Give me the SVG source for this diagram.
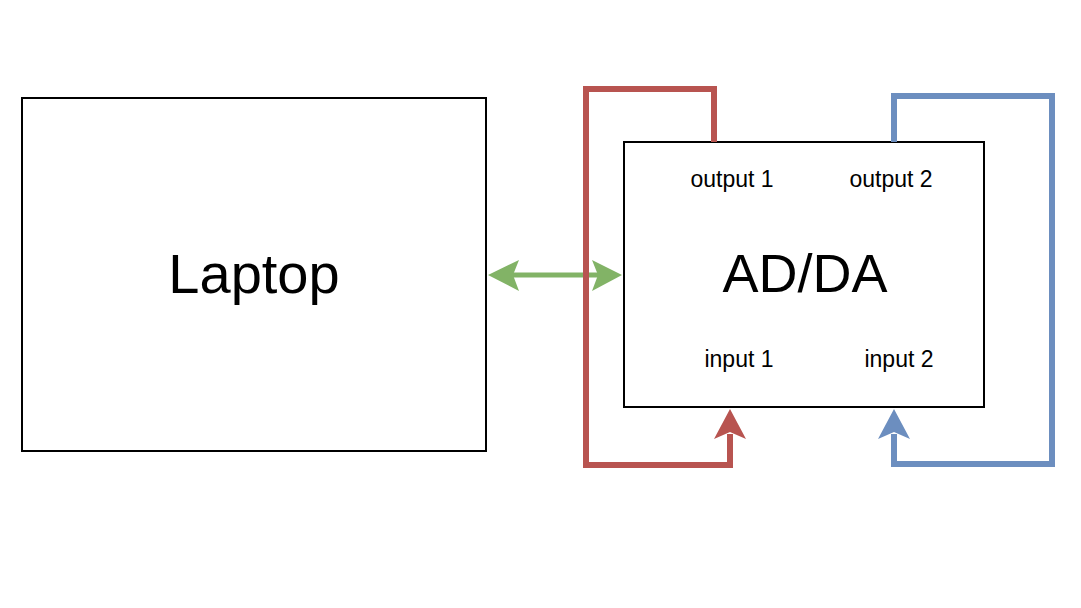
<svg xmlns="http://www.w3.org/2000/svg" width="1081" height="608" viewBox="0 0 1081 608">
  <style>
    .box { fill: #ffffff; stroke: #000000; stroke-width: 2; }
    .big { font-family: "Liberation Sans", Arial, sans-serif; font-size: 54px; fill: #000000; text-anchor: middle; }
    .small { font-family: "Liberation Sans", Arial, sans-serif; font-size: 23px; fill: #000000; text-anchor: middle; }
    .wire { fill: none; stroke-width: 6; stroke-linejoin: miter; }
    .red { stroke: #b85450; }
    .blue { stroke: #6c8ebf; }
    .green { stroke: #82b366; stroke-width: 5; fill: none; }
  </style>
  <rect x="0" y="0" width="1081" height="608" fill="#ffffff"/>
  <g id="laptop">
    <rect class="box" x="22" y="98" width="464" height="353"/>
    <text class="big" x="254" y="293" style="font-size:56px">Laptop</text>
  </g>
  <g id="adda">
    <rect class="box" x="624" y="142" width="360" height="265"/>
    <text class="big" x="805" y="292">AD/DA</text>
    <text class="small" x="732" y="187">output 1</text>
    <text class="small" x="891" y="187">output 2</text>
    <text class="small" x="739" y="367">input 1</text>
    <text class="small" x="899" y="367">input 2</text>
  </g>
  <g id="connectors">
    <g id="link-laptop-adda">
      <line class="green" x1="510" y1="275" x2="600" y2="275"/>
      <polygon fill="#82b366" points="488,275 519,260 513,275 519,291"/>
      <polygon fill="#82b366" points="622,275 592,260 598,275 592,291"/>
    </g>
    <g id="loop-1">
      <path class="wire red" d="M714,142 V89 H586 V465 H730 V434"/>
      <polygon fill="#b85450" points="730,409 746,439 730,432 714,439"/>
    </g>
    <g id="loop-2">
      <path class="wire blue" d="M894,142 V96 H1052 V464 H894 V434"/>
      <polygon fill="#6c8ebf" points="894,409 910,439 894,432 878,439"/>
    </g>
  </g>
</svg>
